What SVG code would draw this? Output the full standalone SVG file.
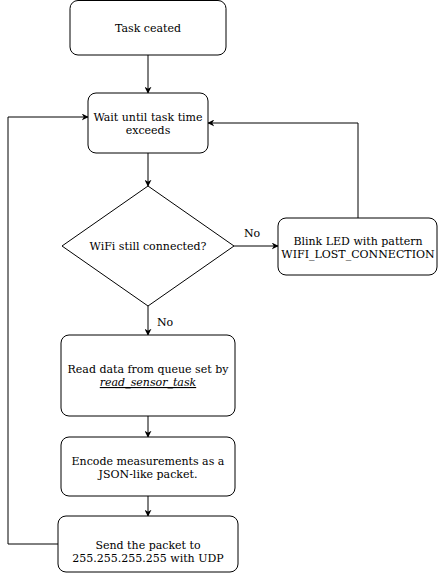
<svg xmlns="http://www.w3.org/2000/svg" width="438" height="574" viewBox="0 0 438 574">
<style>
.n{fill:#ffffff;stroke:#000000;stroke-width:1}
.t{font-family:"DejaVu Serif",serif;font-size:11px;fill:#000000;text-anchor:middle}
.c{fill:none;stroke:#000000;stroke-width:1}
</style>
<defs>
<marker id="a" viewBox="0 0 10 10" refX="9" refY="5" markerWidth="7" markerHeight="7" markerUnits="userSpaceOnUse" orient="auto">
<path d="M0,0 L10,5 L0,10 L3,5 Z" fill="#000"/>
</marker>
</defs>
<rect width="438" height="574" fill="#ffffff"/>
<g id="connectors">
<path class="c" d="M148,55 V93" marker-end="url(#a)"/>
<path class="c" d="M148,153 V186" marker-end="url(#a)"/>
<path class="c" d="M234,246 H278" marker-end="url(#a)"/>
<path class="c" d="M358,218 V123 H208" marker-end="url(#a)"/>
<path class="c" d="M148,306 V335" marker-end="url(#a)"/>
<path class="c" d="M148,416 V437" marker-end="url(#a)"/>
<path class="c" d="M148,496 V516" marker-end="url(#a)"/>
<path class="c" d="M58,544 H8 V117 H88" marker-end="url(#a)"/>
<text class="t" x="252" y="237">No</text>
<text class="t" x="165" y="326">No</text>
</g>
<g id="task-created">
<rect class="n" x="70" y="0.5" width="156" height="54.5" rx="8"/>
<text class="t" x="148" y="32">Task ceated</text>
</g>
<g id="wait">
<rect class="n" x="88" y="93" width="120" height="60" rx="8"/>
<text class="t" x="148" y="121">Wait until task time</text>
<text class="t" x="148" y="134">exceeds</text>
</g>
<g id="wifi">
<path class="n" d="M148,186 L234,246 L148,306 L62,246 Z"/>
<text class="t" x="148" y="250">WiFi still connected?</text>
</g>
<g id="blink">
<rect class="n" x="278" y="218" width="159" height="57" rx="8"/>
<text class="t" x="358" y="245">Blink LED with pattern</text>
<text class="t" x="358" y="258">WIFI_LOST_CONNECTION</text>
</g>
<g id="read">
<rect class="n" x="61" y="335" width="174" height="81" rx="8"/>
<text class="t" x="148" y="373">Read data from queue set by</text>
<text class="t" x="148" y="386" font-style="italic" text-decoration="underline">read_sensor_task</text>
</g>
<g id="encode">
<rect class="n" x="61" y="437" width="174" height="59" rx="8"/>
<text class="t" x="148" y="465">Encode measurements as a</text>
<text class="t" x="148" y="478">JSON-like packet.</text>
</g>
<g id="send">
<rect class="n" x="58" y="516" width="180" height="56" rx="8"/>
<text class="t" x="148" y="549">Send the packet to</text>
<text class="t" x="148" y="562">255.255.255.255 with UDP</text>
</g>
</svg>
